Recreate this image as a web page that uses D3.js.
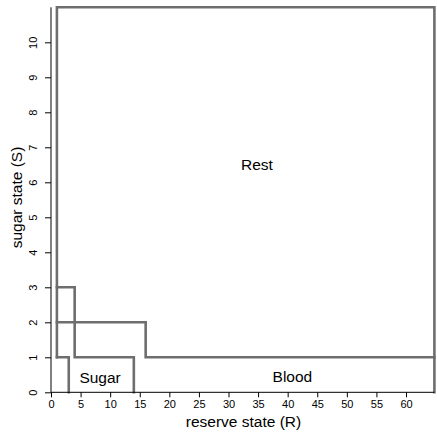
<!DOCTYPE html>
<html>
<head>
<meta charset="utf-8">
<script src="https://cdn.jsdelivr.net/npm/d3@7"></script>
<style>
  html, body { margin: 0; padding: 0; background: #fff; }
  svg { display: block; }
  text { font-family: "Liberation Sans", Arial, sans-serif; fill: #000; }
</style>
</head>
<body>
<svg id="chart" width="437" height="438"></svg>
<script>
// Axis ranges and ticks
const xDomain = [0, 64.8];
const yDomain = [0, 11];
const xTicks = [0, 5, 10, 15, 20, 25, 30, 35, 40, 45, 50, 55, 60];
const yTicks = [0, 1, 2, 3, 4, 5, 6, 7, 8, 9, 10];

// Decision-region boundaries, as (reserve R, sugar S) vertices
const boundaryRestOuter = [[1, 1], [1, 11], [64.8, 11], [64.8, 0]];
const boundarySugarLow = [[1, 1], [3, 1], [3, 0]];
const boundarySugarHigh = [[1, 3], [4, 3], [4, 1], [14, 1], [14, 0]];
const boundaryBlood = [[1, 2], [16, 2], [16, 1], [64.8, 1]];

// Region labels: name, R, S
const regionNames = ["Rest", "Sugar", "Blood"];
const regionR = [34.8, 8.3, 40.8];
const regionS = [6.5, 0.43, 0.45];

const svg = d3.select("#chart");
const x = d3.scaleLinear().domain(xDomain).range([51, 434.4]);
const y = d3.scaleLinear().domain(yDomain).range([392.3, 7.3]);

// Boundary lines
const line = d3.line().x(d => x(d[0])).y(d => y(d[1]));
const boundaryColor = "#6e6e6e";
[boundaryRestOuter, boundarySugarLow, boundarySugarHigh, boundaryBlood].forEach(b => {
  svg.append("path")
    .attr("d", line(b))
    .attr("fill", "none")
    .attr("stroke", boundaryColor)
    .attr("stroke-width", 2.6)
    .attr("stroke-linejoin", "miter")
    .attr("stroke-linecap", "square");
});

// Bottom axis
const xAxis = svg.append("g")
  .attr("transform", `translate(0,${y(0)})`)
  .call(d3.axisBottom(x).tickValues(xTicks).tickSize(5).tickSizeOuter(0).tickPadding(3));
xAxis.select(".domain").attr("stroke", "#000").attr("stroke-width", 1)
  .attr("d", `M${x(0)},0H${x(xDomain[1])}`);
xAxis.selectAll(".tick line").attr("stroke", "#000");
xAxis.selectAll(".tick text")
  .style("font-family", "Liberation Sans, Arial, sans-serif")
  .style("font-size", "11px")
  .attr("fill", "#333");

// Left axis with rotated tick labels
const yAxis = svg.append("g")
  .attr("transform", `translate(${x(0)},0)`)
  .call(d3.axisLeft(y).tickValues(yTicks).tickSize(6).tickSizeOuter(0));
yAxis.select(".domain").attr("stroke", "#000").attr("stroke-width", 1)
  .attr("d", `M0,${y(0)}V${y(yDomain[1])}`);
yAxis.selectAll(".tick line").attr("stroke", "#000");
yAxis.selectAll(".tick text")
  .style("font-family", "Liberation Sans, Arial, sans-serif")
  .style("font-size", "11px")
  .attr("fill", "#333")
  .attr("x", null).attr("dy", null)
  .attr("text-anchor", "middle")
  .attr("transform", "translate(-14,0) rotate(-90)");

// Axis titles
svg.append("text")
  .attr("x", 243.5).attr("y", 427)
  .attr("text-anchor", "middle")
  .style("font-size", "15.5px")
  .text("reserve state (R)");
svg.append("text")
  .attr("transform", `translate(22,197.5) rotate(-90)`)
  .attr("text-anchor", "middle")
  .style("font-size", "15.5px")
  .text("sugar state (S)");

// Region labels
regionNames.forEach((name, i) => {
  svg.append("text")
    .attr("x", x(regionR[i]))
    .attr("y", y(regionS[i]))
    .attr("dy", "0.35em")
    .attr("text-anchor", "middle")
    .style("font-size", "15.5px")
    .text(name);
});
</script>
</body>
</html>
